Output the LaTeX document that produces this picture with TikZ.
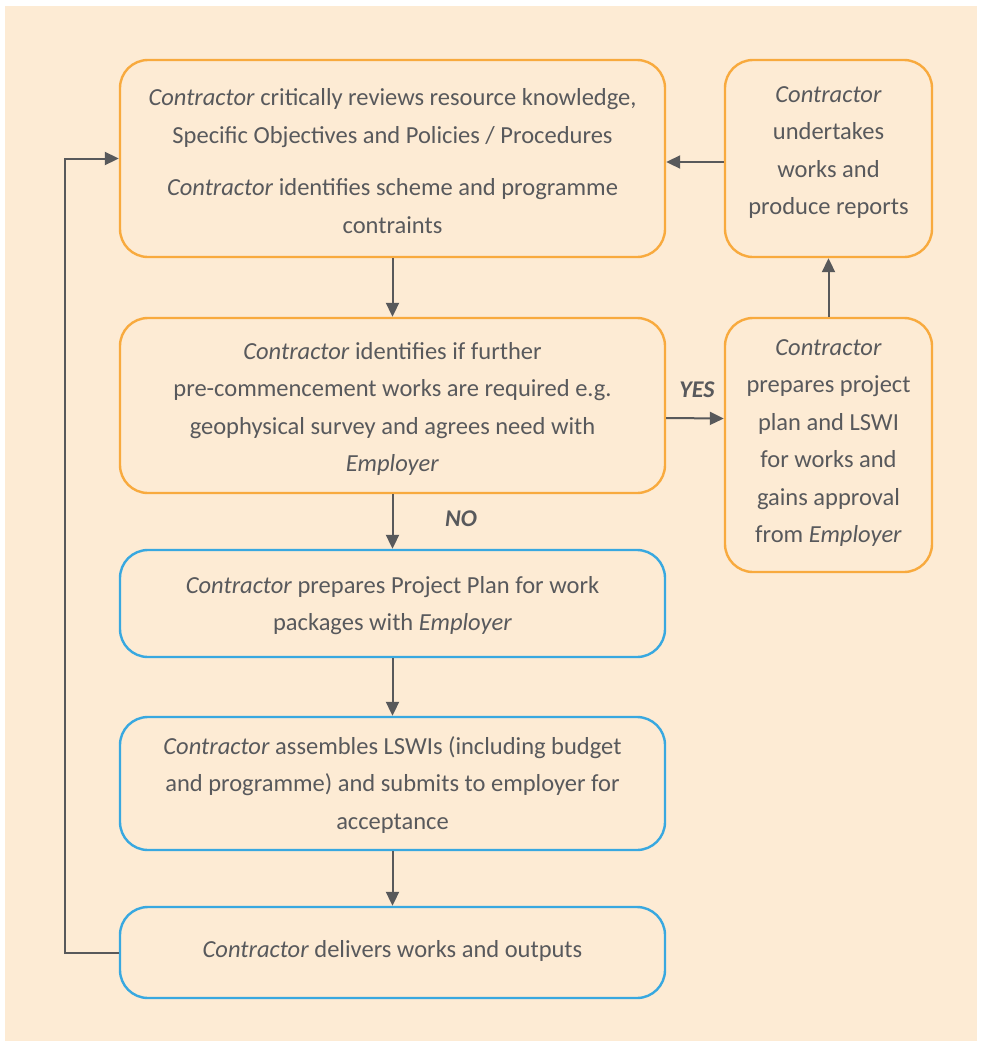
\documentclass[tikz,border=0pt]{standalone}
\usepackage{fontspec}
\setmainfont{Carlito}
\usetikzlibrary{calc,arrows.meta}
\definecolor{bgpeach}{HTML}{FDEBD4}
\definecolor{borange}{HTML}{F8AA3E}
\definecolor{bblue}{HTML}{38A8E0}
\definecolor{tgray}{HTML}{58595C}
\definecolor{agray}{HTML}{58595B}
\tikzset{
  box/.style={draw, line width=2.4pt, rounded corners=28pt, inner sep=0pt},
  obox/.style={box, draw=borange},
  bbox/.style={box, draw=bblue},
  txt/.style={align=center, text=tgray, inner sep=0pt,
    font=\fontsize{24.5}{37.5}\selectfont},
  arr/.style={draw=agray, line width=2pt, -{Triangle[length=14pt,width=13pt]}},
  lbl/.style={text=tgray, font=\fontsize{24}{28}\selectfont\bfseries\itshape}
}
\begin{document}
\begin{tikzpicture}[x=1pt,y=-1pt]
\useasboundingbox (0,0) rectangle (982,1050);
\fill[white] (0,0) rectangle (982,1050);
\fill[bgpeach] (5,6) rectangle (977,1041);
\node[obox, minimum width=545pt, minimum height=197pt] (b1) at (392.5,158.5) {};
\node[obox, minimum width=207pt, minimum height=197pt] (b2) at (828.5,158.5) {};
\node[obox, minimum width=545pt, minimum height=175pt] (b3) at (392.5,405.5) {};
\node[obox, minimum width=207pt, minimum height=254pt] (b4) at (828.5,445) {};
\node[bbox, minimum width=545pt, minimum height=107pt] (b5) at (392.5,603.5) {};
\node[bbox, minimum width=545pt, minimum height=133pt] (b6) at (392.5,783.5) {};
\node[bbox, minimum width=545pt, minimum height=91pt] (b7) at (392.5,952.5) {};
\node[txt] (t1) at (392.5,161)
  {\textit{Contractor} critically reviews resource knowledge,\\
   Specific Objectives and Policies / Procedures\\[15pt]
   \textit{Contractor} identifies scheme and programme\\
   contraints};
\node[txt] (t2) at (828.5,152.5)
  {\textit{Contractor}\\ undertakes\\ works and\\ produce reports};
\node[txt] (t3) at (392.5,409)
  {\textit{Contractor} identifies if further\\
   pre-commencement works are required e.g.\\
   geophysical survey and agrees need with\\
   \textit{Employer}};
\node[txt] (t4) at (828.5,443)
  {\textit{Contractor}\\ prepares project\\ plan and LSWI\\ for works and\\ gains approval\\ from \textit{Employer}};
\node[txt] (t5) at (392.5,605.5)
  {\textit{Contractor} prepares Project Plan for work\\
   packages with \textit{Employer}};
\node[txt] (t6) at (392.5,785)
  {\textit{Contractor} assembles LSWIs (including budget\\
   and programme) and submits to employer for\\
   acceptance};
\node[txt] (t7) at (392.5,951)
  {\textit{Contractor} delivers works and outputs};
\draw[arr] (b1.south) -- (b3.north);
\draw[arr] (b3.south) -- (b5.north);
\draw[arr] (b5.south) -- (b6.north);
\draw[arr] (b6.south) -- (b7.north);
\draw[arr] ($(b3.east)+(0,12.5)$) -- ($(b4.west)+(0,-26.5)$);
\draw[arr] (b4.north) -- (b2.south);
\draw[arr] ($(b2.west)+(0,3.5)$) -- ($(b1.east)+(0,3.5)$);
\coordinate (lp) at ($(b7.west)+(-54,0)$);
\draw[arr] (b7.west) -- (lp) |- (b1.west);
\node[lbl] (yes) at (697,390) {YES};
\node[lbl] (no) at (461,519) {NO};
\end{tikzpicture}
\end{document}
